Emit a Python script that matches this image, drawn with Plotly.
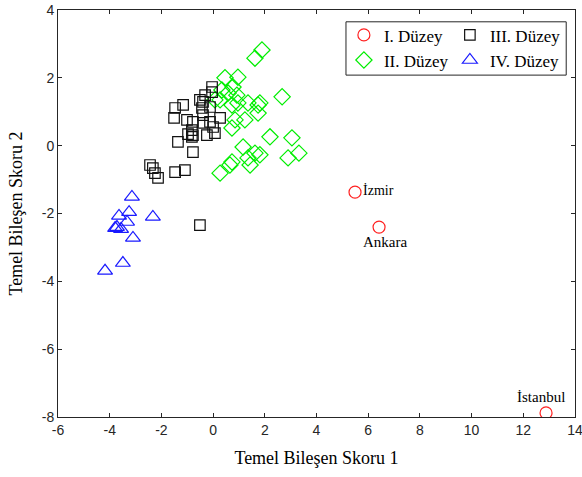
import plotly.graph_objects as go

# I. Düzey (cities)
lvl1_x = [5.49, 6.42, 12.88]
lvl1_y = [-1.37, -2.40, -7.88]
lvl1_names = ["İzmir", "Ankara", "İstanbul"]

# II. Düzey
lvl2_x = [1.89, 1.62, 0.46, 0.96, 0.77, 0.58, 0.92, 0.27, 0.96, 1.35, 1.81, 0.73, 1.74, 1.74,
          0.85, 1.23, 0.73, 2.67, 2.20, 3.05, 1.16, 1.62, 1.35, 1.81, 3.32, 2.90, 1.43, 0.65,
          0.73, 0.27, 0.07, 0.34]
lvl2_y = [2.82, 2.58, 2.00, 2.02, 1.73, 1.55, 1.49, 1.35, 1.26, 1.26, 1.26, 1.20, 1.20, 0.96,
          0.76, 0.76, 0.52, 1.44, 0.26, 0.23, -0.04, -0.22, -0.36, -0.27, -0.22, -0.36, -0.57, -0.57,
          -0.48, -0.81, 1.35, 1.64]

# III. Düzey
lvl3_x = [-0.04, -0.04, -0.51, -1.16, -1.47, -1.51, -0.39, -0.43, -0.12, -0.39, 0.27, -1.01,
          -0.78, -0.12, -0.39, 0.00, -0.82, -0.97, -0.78, -0.24, 0.07, -1.36, -0.82, -0.78,
          -2.44, -2.33, -2.25, -2.13, -1.47, -1.09, -0.51, -0.31]
lvl3_y = [1.73, 1.58, 1.35, 1.20, 1.11, 0.82, 1.29, 1.11, 1.14, 0.90, 0.82, 0.76,
          0.70, 0.70, 0.67, 0.55, 0.46, 0.34, 0.31, 0.31, 0.37, 0.11, 0.26, -0.19,
          -0.57, -0.66, -0.81, -0.95, -0.78, -0.72, -2.34, 1.49]

# IV. Düzey
lvl4_x = [-3.14, -3.25, -3.64, -2.33, -3.33, -3.72, -3.79, -3.56, -3.10, -3.49, -4.18]
lvl4_y = [-1.51, -1.96, -2.07, -2.10, -2.25, -2.40, -2.43, -2.46, -2.72, -3.46, -3.69]

x_ticks = [-6, -4, -2, 0, 2, 4, 6, 8, 10, 12, 14]
y_ticks = [-8, -6, -4, -2, 0, 2, 4]

serif = "Liberation Serif, Times New Roman, serif"
sans = "Liberation Sans, Arial, sans-serif"

fig = go.Figure()
fig.add_trace(go.Scatter(x=lvl1_x, y=lvl1_y, mode="markers", name="I. Düzey", legend="legend",
                         marker=dict(symbol="circle-open", size=12, color="#ff2020", line=dict(width=1.2))))
fig.add_trace(go.Scatter(x=lvl2_x, y=lvl2_y, mode="markers", name="II. Düzey", legend="legend",
                         marker=dict(symbol="diamond-open", size=12.5, color="#00ee00", line=dict(width=1.2))))
fig.add_trace(go.Scatter(x=lvl3_x, y=lvl3_y, mode="markers", name="III. Düzey", legend="legend2",
                         marker=dict(symbol="square-open", size=10.5, color="#111111", line=dict(width=1.2))))
fig.add_trace(go.Scatter(x=lvl4_x, y=lvl4_y, mode="markers", name="IV. Düzey", legend="legend2",
                         marker=dict(symbol="triangle-up-open", size=13, color="#1a1aff", line=dict(width=1.2))))

# city labels
fig.add_annotation(x=lvl1_x[0], y=lvl1_y[0], text=lvl1_names[0], showarrow=False,
                   xanchor="left", yanchor="middle", xshift=6, yshift=2,
                   font=dict(family=serif, size=14, color="black"))
fig.add_annotation(x=lvl1_x[1], y=lvl1_y[1], text=lvl1_names[1], showarrow=False,
                   xanchor="center", yanchor="top", xshift=6, yshift=-5,
                   font=dict(family=serif, size=15, color="black"))
fig.add_annotation(x=lvl1_x[2], y=lvl1_y[2], text=lvl1_names[2], showarrow=False,
                   xanchor="center", yanchor="bottom", xshift=-5, yshift=6,
                   font=dict(family=serif, size=15, color="black"))

axis_common = dict(showgrid=False, zeroline=False, showline=True, linecolor="#262626", linewidth=1,
                   mirror="ticks", ticks="inside", ticklen=4, tickcolor="#262626", automargin=False,
                   ticklabeloverflow="allow",
                   tickfont=dict(family=sans, size=14, color="#262626"))

fig.update_layout(
    width=582, height=477,
    margin=dict(l=58, r=7, t=10, b=60),
    plot_bgcolor="white", paper_bgcolor="white",
    xaxis=dict(range=[-6, 14], tickvals=x_ticks, ticktext=[str(v) for v in x_ticks],
               title=dict(text="Temel Bileşen Skoru 1", font=dict(family=serif, size=18, color="black"), standoff=14),
               **axis_common),
    yaxis=dict(range=[-8, 4], tickvals=y_ticks, ticktext=[str(v) for v in y_ticks],
               title=dict(text="Temel Bileşen Skoru 2", font=dict(family=serif, size=18, color="black"), standoff=14),
               **axis_common),
    legend=dict(x=0.553, y=0.982, xanchor="left", yanchor="top", bgcolor="rgba(0,0,0,0)",
                font=dict(family=serif, size=17, color="black"), tracegroupgap=0,
                itemwidth=30),
    legend2=dict(x=0.758, y=0.982, xanchor="left", yanchor="top", bgcolor="rgba(0,0,0,0)",
                 font=dict(family=serif, size=17, color="black"), tracegroupgap=0,
                 itemwidth=30),
    shapes=[dict(type="rect", xref="paper", yref="paper", x0=0.557, x1=0.983, y0=0.840, y1=0.971,
                 line=dict(color="#262626", width=1), fillcolor="rgba(0,0,0,0)")],
    showlegend=True,
)

fig.write_html("out.html")
